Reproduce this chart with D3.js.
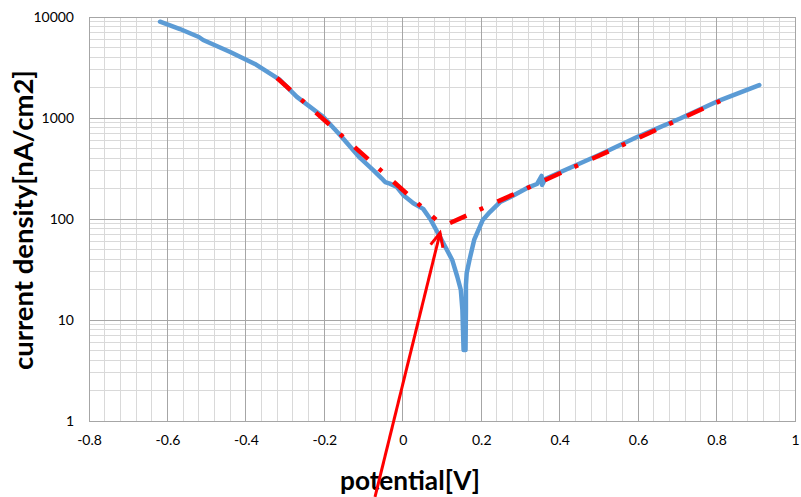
<!DOCTYPE html>
<html><head><meta charset="utf-8">
<script src="https://cdn.jsdelivr.net/npm/d3@7"></script>
<style>
html,body{margin:0;padding:0;background:#fff;}
text{font-family:Lato, "Liberation Sans", sans-serif;}
</style></head>
<body>
<svg id="chart" width="801" height="497"></svg>
<script>
// ---- data ----
const potential = [-0.619,-0.568,-0.520,-0.509,-0.440,-0.377,-0.313,-0.270,-0.203,-0.160,-0.109,-0.076,-0.054,-0.045,-0.033,-0.016,0.001,0.027,0.052,0.070,0.095,0.110,0.126,0.139,0.148,0.152,0.155,0.160,0.161,0.161,0.163,0.170,0.182,0.204,0.222,0.248,0.282,0.317,0.342,0.354,0.355,0.363,0.401,0.500,0.600,0.707,0.800,0.909];
const currentDensity = [8980,7600,6340,5920,4500,3430,2380,1620,1030,680,402,306,253,232,224,209,173,143,126,100,66.4,51.6,39.3,26.8,19.8,12.6,5.05,5.05,12.6,22.2,29.2,39.3,62,97.8,117,147,171,203,222,267,217,249,290,430,655,990,1450,2120];
const cathodicPotential = [-0.3206, 0.0848];
const cathodicCurrent = [2490, 98.6];
const anodicPotential = [0.1204, 0.81];
const anodicCurrent = [91.2, 1480];
const arrowPotential = [-0.0708, 0.095];
const arrowCurrent = [0.177, 72.7];
const xTicks = [-0.8,-0.6,-0.4,-0.2,0,0.2,0.4,0.6,0.8,1];
const yTicks = [1,10,100,1000,10000];
const xTitle = "potential[V]";
const yTitle = "current density[nA/cm2]";

// ---- layout ----
const L = 89, R = 795, T = 17, B = 421;
const svg = d3.select("#chart");
const x = d3.scaleLinear().domain([-0.8, 1]).range([L, R]);
const y = d3.scaleLog().domain([1, 10000]).range([B, T]);

// grid
const grid = svg.append("g");
const minorX = d3.range(0, 46).map(i => -0.8 + i * 0.04);
grid.selectAll("line.vx").data(minorX).join("line")
  .attr("x1", d => x(d)).attr("x2", d => x(d)).attr("y1", T).attr("y2", B)
  .attr("stroke", "#d9d9d9").attr("stroke-width", 1).attr("shape-rendering","crispEdges");
const minorY = [];
for (let e = 0; e < 4; e++) for (let m = 2; m <= 9; m++) minorY.push(m * Math.pow(10, e));
grid.selectAll("line.hy").data(minorY).join("line")
  .attr("x1", L).attr("x2", R).attr("y1", d => y(d)).attr("y2", d => y(d))
  .attr("stroke", "#d9d9d9").attr("stroke-width", 1).attr("shape-rendering","crispEdges");
grid.selectAll("line.mx").data(xTicks).join("line")
  .attr("x1", d => x(d)).attr("x2", d => x(d)).attr("y1", T).attr("y2", B)
  .attr("stroke", "#a6a6a6").attr("stroke-width", 1).attr("shape-rendering","crispEdges");
grid.selectAll("line.my").data(yTicks).join("line")
  .attr("x1", L).attr("x2", R).attr("y1", d => y(d)).attr("y2", d => y(d))
  .attr("stroke", "#a6a6a6").attr("stroke-width", 1).attr("shape-rendering","crispEdges");
grid.append("rect").attr("x", L).attr("y", T).attr("width", R - L).attr("height", B - T)
  .attr("fill", "none").attr("stroke", "#a6a6a6").attr("shape-rendering","crispEdges");

// axes (labels only)
const fmtX = d => (Math.abs(d) < 1e-9 ? "0" : String(+d.toFixed(1)));
const gx = svg.append("g").attr("transform", `translate(0,${B})`)
  .call(d3.axisBottom(x).tickValues(xTicks).tickFormat(fmtX).tickSize(0).tickPadding(14));
const gy = svg.append("g").attr("transform", `translate(${L},0)`)
  .call(d3.axisLeft(y).tickValues(yTicks).tickFormat(d3.format("d")).tickSize(0).tickPadding(15));
[gx, gy].forEach(g => {
  g.select(".domain").remove();
  g.selectAll("text").attr("font-family", "Lato, sans-serif").attr("font-size", 14).attr("fill", "#000");
});

// data line
const line = d3.line().x((d) => x(d[0])).y(d => y(d[1]));
const pts = potential.map((p, i) => [p, currentDensity[i]]);
svg.append("path").datum(pts).attr("d", line)
  .attr("fill", "none").attr("stroke", "#5b9bd5").attr("stroke-width", 4.5)
  .attr("stroke-linejoin", "round").attr("stroke-linecap", "round");

// tafel dashed lines (two separate series)
[[cathodicPotential, cathodicCurrent], [anodicPotential, anodicCurrent]].forEach(([ps, cs]) => {
  svg.append("path").datum(ps.map((p, i) => [p, cs[i]])).attr("d", line)
    .attr("fill", "none").attr("stroke", "#ff0000").attr("stroke-width", 4.5)
    .attr("stroke-dasharray", "18,14.5,4,15.5");
});

// titles
const xt = svg.append("text").attr("x", 410).attr("y", 490).attr("text-anchor", "middle")
  .attr("font-weight", "bold").attr("font-size", 26).attr("fill", "#000").text(xTitle);
const yt = svg.append("text").attr("transform", "translate(33,220) rotate(-90)").attr("text-anchor", "middle")
  .attr("font-weight", "bold").attr("font-size", 26).attr("fill", "#000").text(yTitle);
const fit = (t, w) => { const l = t.node().getComputedTextLength(); t.attr("font-size", 26 * w / l); };
fit(xt, 140); fit(yt, 300);

// arrow annotation
const a0 = [x(arrowPotential[0]), y(arrowCurrent[0])];
const a1 = [x(arrowPotential[1]), y(arrowCurrent[1])];
svg.append("line").attr("x1", a0[0]).attr("y1", a0[1]).attr("x2", a1[0]).attr("y2", a1[1])
  .attr("stroke", "#ff0000").attr("stroke-width", 3);
const ang = Math.atan2(a0[1] - a1[1], a0[0] - a1[0]);
const hl = 15, spread = 25 * Math.PI / 180;
const head = [[a1[0] + hl * Math.cos(ang + spread), a1[1] + hl * Math.sin(ang + spread)], a1,
              [a1[0] + hl * Math.cos(ang - spread), a1[1] + hl * Math.sin(ang - spread)]];
svg.append("path").attr("d", d3.line()(head)).attr("fill", "none")
  .attr("stroke", "#ff0000").attr("stroke-width", 3).attr("stroke-linejoin", "miter");
</script>
</body></html>
